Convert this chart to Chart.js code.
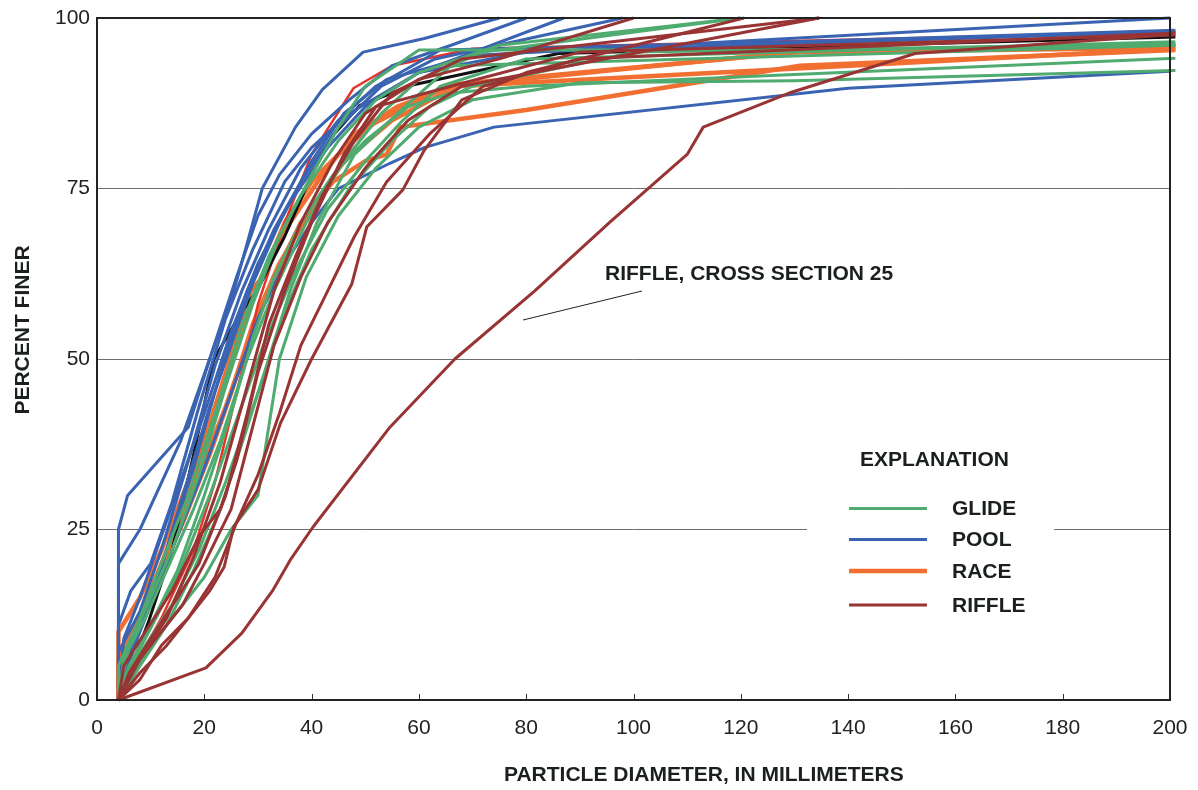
<!DOCTYPE html>
<html>
<head>
<meta charset="utf-8">
<script src="https://cdn.jsdelivr.net/npm/chart.js@4.4.1/dist/chart.umd.min.js"></script>
<style>
  html, body { margin: 0; padding: 0; background: #fff; }
  #wrap { width: 1198px; height: 790px; }
</style>
</head>
<body>
<div id="wrap"><canvas id="chart" width="1198" height="790"></canvas></div>
<script>
// axis ticks
const xTicks = [0, 20, 40, 60, 80, 100, 120, 140, 160, 180, 200];
const yTicks = [0, 25, 50, 75, 100];

// legend categories
const categories = ['GLIDE', 'POOL', 'RACE', 'RIFFLE'];

// curves, [diameter mm, percent finer]
const poolCurves = [
  [[4,0],[4,25],[5.7,30],[17,40],[21,50],[25.5,60],[28,67],[30.8,75],[37,84],[42,89.5],[49.6,95],[61,97],[75,100]],
  [[4,0],[4,20],[8,25],[15.6,38],[21,50],[26,62],[30,71],[34,77],[40,83],[47,88],[55,93],[66,96],[80,100]],
  [[4,0],[4,11],[6.3,16],[10,20],[14,29],[19,43],[24,56],[29,66],[35,76],[40,81],[47,86],[60,92],[87,100]],
  [[4,0],[5,5],[9,12],[13,22],[18,34],[23,48],[28,60],[33,69],[38,76],[45,84],[53,90],[63,94],[98,100]],
  [[4,0],[6,6],[10,14],[15,24],[20,34],[25,45],[30,56],[35,64],[40,70],[45,75],[54.6,78.7],[61,81],[74,84],[140,89.7],[200,92.2]],
  [[4,0],[4,7],[8,13],[12,22],[17,35],[22,49],[27,60],[32,69],[38,78],[45,85],[52,90],[64,95.3],[130,96.5],[201,98.2]],
  [[4,0],[7,8],[11,17],[16,30],[21,43],[25,52],[29,61],[34,70],[40,79],[46,86],[54,91],[70,94.5],[129,97],[200,100]],
  [[4,0],[5,9],[8,15],[12,24],[16,33],[20,42],[25,54],[30,64],[36,73],[43,81],[50,87],[60,92],[80,95],[201,98]]
];
const glideCurves = [
  [[4,0],[6,5],[10,11],[15,19],[20,30],[25,42],[29,53],[33,62],[38,70],[44,77],[50,82],[58,87],[66,89],[80,90],[130,91.7],[201,94.1]],
  [[4,0],[7,4],[11,9],[16,14],[20,18],[25,25],[30,30],[34,50],[39,62],[45,71],[52,78],[60,84],[70,88],[90,90.5],[130,90.8],[201,92.3]],
  [[4,0],[4,5],[8,12],[12,20],[17,30],[22,42],[27,55],[32,65],[38,74],[45,82],[52,88],[60,92],[75,96],[120,100]],
  [[4,0],[6,8],[10,15],[14,22],[19,33],[24,46],[29,58],[34,68],[40,77],[45,84],[50,90],[60,95.3],[131,95.3],[201,96]],
  [[4,0],[7,6],[11,12],[16,20],[21,30],[26,41],[31,52],[37,63],[43,72],[50,79],[57,85],[64,90],[80,94],[201,96.5]],
  [[4,0],[5,6],[9,12],[13,19],[18,28],[23,38],[28,50],[33,60],[39,70],[46,79],[53,86],[60,91],[72,95],[120,100]],
  [[4,0],[8,5],[13,11],[18,19],[23,28],[28,40],[32,50],[36,60],[41,70],[48,80],[56,86],[66,93],[201,96]],
  [[4,0],[5,3],[9,8],[14,14],[19,22],[24,32],[30,45],[35,57],[40,66],[47,75],[55,82],[62,87],[70,90],[100,95],[201,96.2]]
];
const riffleCurves = [
  [[4,0],[20.3,4.7],[27,9.8],[32.7,16],[36,20.5],[40.3,25.4],[54.6,40],[66.7,50],[81.6,60],[95.5,70],[110,80],[113,84],[129,89],[152.5,94.8],[201,97.6]],
  [[4,0],[8,6],[13,12],[18,21],[23,32],[28,46],[33,60],[38,70],[44,79],[50,86],[60,91],[75,94],[100,100]],
  [[4,0],[7,5],[12,10],[16,14],[20,20],[25,28],[29,40],[33,52],[38,62],[43,70],[50,78],[58,85],[68,90],[134.6,100]],
  [[4,0],[8,4],[13,8],[18,13],[21,16],[23.7,19.5],[25.5,25.4],[30,30.8],[34.2,40.6],[40,50],[47.5,61],[50.3,69.4],[57,74.8],[61,80.6],[68,88],[80,92],[120.6,100]],
  [[4,0],[5,5],[9,10],[14,16],[19,24],[23,28],[26,35],[30,48],[35,60],[40,70],[46,80],[52,87],[66,90],[90,95],[201,97.5]],
  [[4,0],[8,3],[12,8],[17,12],[22,18],[26,26],[30,33],[34,42],[38,52],[43,60],[48,68],[54,76],[62,83],[72,90],[90,94],[201,97.8]],
  [[4,0],[6,4],[10,9],[15,15],[19,20],[24,30],[28,42],[32,55],[37,65],[42,74],[48,82],[55,89],[68,94],[134.6,100]]
];
const raceCurves = [
  [[4,0],[4,10],[8,15],[12,22],[16,30],[20,38],[24,48],[28.6,60],[30.5,61.6],[35,70],[40,76],[45,80],[51.5,84.5],[65.8,90.2],[131,95],[201,95.6]],
  [[4,0],[4,5],[7,10],[11,18],[15,25],[19,33],[24,43],[28,52],[33,62],[38,70],[44,76],[50,79],[54,80],[56.5,84],[80,86.5],[131,93],[201,95.3]],
  [[4,0],[5,8],[9,14],[13,22],[17,30],[22,42],[26,52],[30,61],[36,70],[42,77],[48,83],[56,87],[66,90],[130,95],[201,96]],
  [[4,0],[4,6],[8,12],[12,19],[16,26],[21,36],[25,45],[29,55],[34,64],[40,72],[46,79],[55,85],[67,90],[201,95.5]]
];
// two odd curves drawn in black and bright red
const blackCurve = [[4,0],[6,4],[9.7,11.7],[14,22],[18,36],[21.8,50],[26.8,56.7],[30,60.3],[35,68],[40,77],[44,82.8],[49,87.2],[59,90.2],[86,94.8],[201,97.2]];
const redCurve = [[4,0],[7,5],[12,12],[18,22],[22,32],[26,45],[30,58],[35,70],[40,80],[44,85],[47.8,89.7],[55,93],[70,95.5],[201,98]];

const COLORS = { GLIDE: '#4fab6f', POOL: '#3a63b2', RACE: '#f26f32', RIFFLE: '#993434' };
const TEXT = '#1b1f1f';

function mk(curve, color, width) {
  return {
    data: curve.map(p => ({ x: p[0], y: p[1] })),
    showLine: true,
    borderColor: color,
    borderWidth: width,
    pointRadius: 0,
    borderJoinStyle: 'round',
    tension: 0,
    clip: 10
  };
}

const datasets = [];
riffleCurves.forEach(c => datasets.push(mk(c, COLORS.RIFFLE, 3)));
glideCurves.forEach(c => datasets.push(mk(c, COLORS.GLIDE, 3)));
poolCurves.forEach(c => datasets.push(mk(c, COLORS.POOL, 3)));
datasets.push(mk(blackCurve, '#111', 3));
datasets.push(mk(redCurve, '#e5332a', 2.5));
raceCurves.forEach(c => datasets.push(mk(c, COLORS.RACE, 4.5)));

// frame, inner ticks, titles, legend and the note
const decor = {
  id: 'decor',
  afterDraw(chart) {
    const { ctx, chartArea: a, scales } = chart;
    ctx.save();
    // inner x ticks
    ctx.strokeStyle = '#333';
    ctx.lineWidth = 1;
    xTicks.forEach(v => {
      const px = Math.round(scales.x.getPixelForValue(v)) + 0.5;
      ctx.beginPath();
      ctx.moveTo(px, a.bottom);
      ctx.lineTo(px, a.bottom - 6);
      ctx.stroke();
    });
    // frame
    ctx.strokeStyle = '#222';
    ctx.lineWidth = 2;
    ctx.strokeRect(a.left, a.top, a.right - a.left, a.bottom - a.top);

    ctx.fillStyle = TEXT;
    ctx.font = 'bold 21px "Liberation Sans", Arial, sans-serif';
    // axis titles
    ctx.textAlign = 'left';
    ctx.textBaseline = 'middle';
    ctx.fillText('PARTICLE DIAMETER, IN MILLIMETERS', 504, 775);
    ctx.save();
    ctx.translate(23, 330);
    ctx.rotate(-Math.PI / 2);
    ctx.textAlign = 'center';
    ctx.fillText('PERCENT FINER', 0, 0);
    ctx.restore();

    // note with leader
    ctx.textAlign = 'left';
    ctx.fillText('RIFFLE, CROSS SECTION 25', 605, 274);
    ctx.strokeStyle = '#222';
    ctx.lineWidth = 1;
    ctx.beginPath();
    ctx.moveTo(523, 320);
    ctx.lineTo(642, 291);
    ctx.stroke();

    // legend
    ctx.fillStyle = '#fff';
    ctx.fillRect(807, 432, 247, 200);
    ctx.fillStyle = TEXT;
    ctx.fillText('EXPLANATION', 860, 460);
    const rowY = [508.5, 539.5, 571, 605];
    categories.forEach((name, i) => {
      ctx.strokeStyle = COLORS[name];
      ctx.lineWidth = name === 'RACE' ? 4.5 : 3;
      ctx.beginPath();
      ctx.moveTo(849, rowY[i]);
      ctx.lineTo(927, rowY[i]);
      ctx.stroke();
      ctx.fillStyle = TEXT;
      ctx.fillText(name, 952, rowY[i] + 1);
    });
    ctx.restore();
  }
};

new Chart(document.getElementById('chart'), {
  type: 'scatter',
  data: { datasets },
  options: {
    responsive: false,
    animation: false,
    events: [],
    layout: { padding: { left: 0, right: 28, top: 18, bottom: 0 } },
    plugins: { legend: { display: false }, tooltip: { enabled: false } },
    scales: {
      x: {
        type: 'linear', min: 0, max: 200,
        afterFit: s => { s.height = 90; s.paddingLeft = 0; s.paddingRight = 0; },
        afterBuildTicks: s => { s.ticks = xTicks.map(v => ({ value: v })); },
        grid: { display: false, drawTicks: false },
        border: { display: false },
        ticks: { padding: 16, color: '#222', font: { family: '"Liberation Sans", Arial, sans-serif', size: 21 } }
      },
      y: {
        type: 'linear', min: 0, max: 100,
        afterFit: s => { s.width = 97; s.paddingTop = 0; s.paddingBottom = 0; },
        afterBuildTicks: s => { s.ticks = yTicks.map(v => ({ value: v })); },
        grid: {
          drawTicks: false,
          lineWidth: 1,
          color: c => (c.tick && (c.tick.value === 0 || c.tick.value === 100)) ? 'rgba(0,0,0,0)' : '#6e6e6e'
        },
        border: { display: false },
        ticks: { padding: 7, color: '#222', font: { family: '"Liberation Sans", Arial, sans-serif', size: 21 } }
      }
    }
  },
  plugins: [decor]
});
</script>
</body>
</html>
